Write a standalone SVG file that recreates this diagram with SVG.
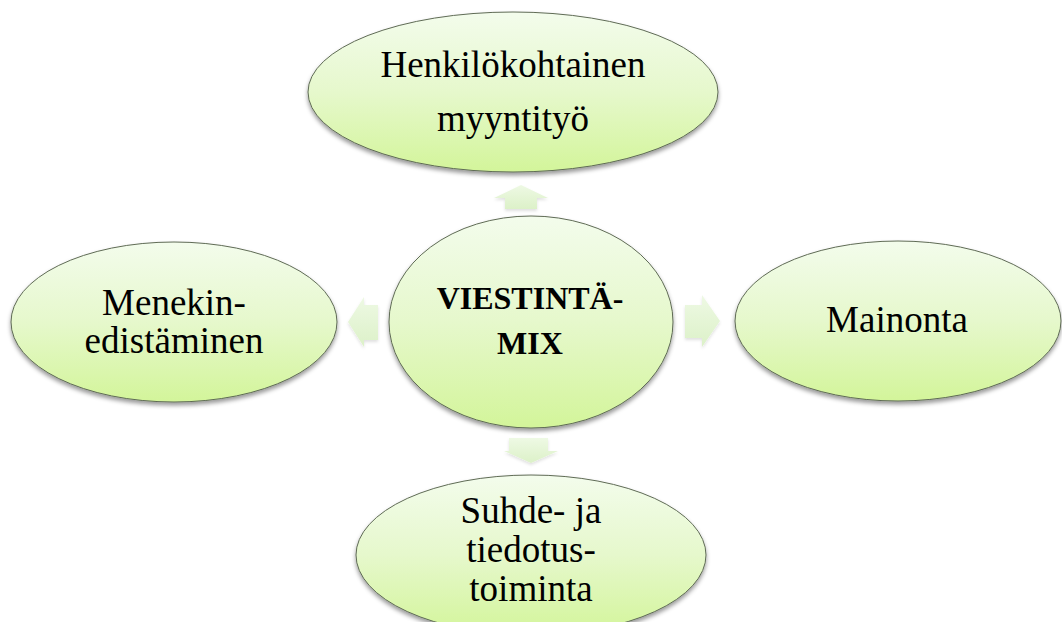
<svg xmlns="http://www.w3.org/2000/svg" width="1062" height="622" viewBox="0 0 1062 622">
  <defs>
    <linearGradient id="nodeFill" x1="0" y1="0" x2="0" y2="1">
      <stop offset="0" stop-color="#f3fcec"/>
      <stop offset="0.5" stop-color="#e6f8cc"/>
      <stop offset="1" stop-color="#d3f59a"/>
    </linearGradient>
    <linearGradient id="arrowFill" x1="0" y1="0" x2="0" y2="1">
      <stop offset="0" stop-color="#eef9e4"/>
      <stop offset="1" stop-color="#dcf1c8"/>
    </linearGradient>
    <filter id="shadow" x="-10%" y="-10%" width="120%" height="130%">
      <feDropShadow dx="0" dy="3" stdDeviation="2.2" flood-color="#000" flood-opacity="0.4"/>
    </filter>
    <filter id="softShadow" x="-20%" y="-20%" width="140%" height="150%">
      <feDropShadow dx="0" dy="2" stdDeviation="1.5" flood-color="#000" flood-opacity="0.12"/>
    </filter>
  </defs>
  <style>
    .node { fill: url(#nodeFill); stroke: #5f6b55; stroke-width: 1; filter: url(#shadow); }
    .arrow { fill: url(#arrowFill); stroke: none; filter: url(#softShadow); }
    .label { font-family: "Liberation Serif", "Times New Roman", serif; font-size: 37px; fill: #000; text-anchor: middle; }
    .hub { font-family: "Liberation Serif", "Times New Roman", serif; font-size: 32px; font-weight: bold; fill: #000; text-anchor: middle; }
  </style>
  <rect width="1062" height="622" fill="#fff"/>

  <!-- block arrows pointing outward from the hub -->
  <g id="connectors">
    <polygon class="arrow" points="521,185 548,198 537,198 537,209 505,209 505,198 494,198"/>
    <polygon class="arrow" points="348,322 364,297 364,305 378,305 378,340 364,340 364,347"/>
    <polygon class="arrow" points="720,321 702,295 702,305 685,305 685,338 702,338 702,347"/>
    <polygon class="arrow" points="531,463 558,451 548,451 548,438 509,438 509,451 504,451"/>
  </g>

  <g id="node-top">
    <ellipse class="node" cx="513" cy="92" rx="205" ry="80"/>
    <text class="label" x="513" y="77">Henkilökohtainen</text>
    <text class="label" x="513" y="131">myyntityö</text>
  </g>

  <g id="node-left">
    <ellipse class="node" cx="174" cy="322" rx="163" ry="80"/>
    <text class="label" x="174" y="315">Menekin-</text>
    <text class="label" x="174" y="353">edistäminen</text>
  </g>

  <g id="node-right">
    <ellipse class="node" cx="898" cy="321" rx="163" ry="80"/>
    <text class="label" x="897" y="332">Mainonta</text>
  </g>

  <g id="node-bottom">
    <ellipse class="node" cx="531" cy="555" rx="175" ry="80"/>
    <text class="label" x="531" y="523">Suhde- ja</text>
    <text class="label" x="531" y="562">tiedotus-</text>
    <text class="label" x="531" y="601">toiminta</text>
  </g>

  <g id="node-center">
    <ellipse class="node" cx="531" cy="322" rx="142" ry="106"/>
    <text class="hub" x="530" y="309">VIESTINTÄ-</text>
    <text class="hub" x="530" y="354">MIX</text>
  </g>
</svg>
